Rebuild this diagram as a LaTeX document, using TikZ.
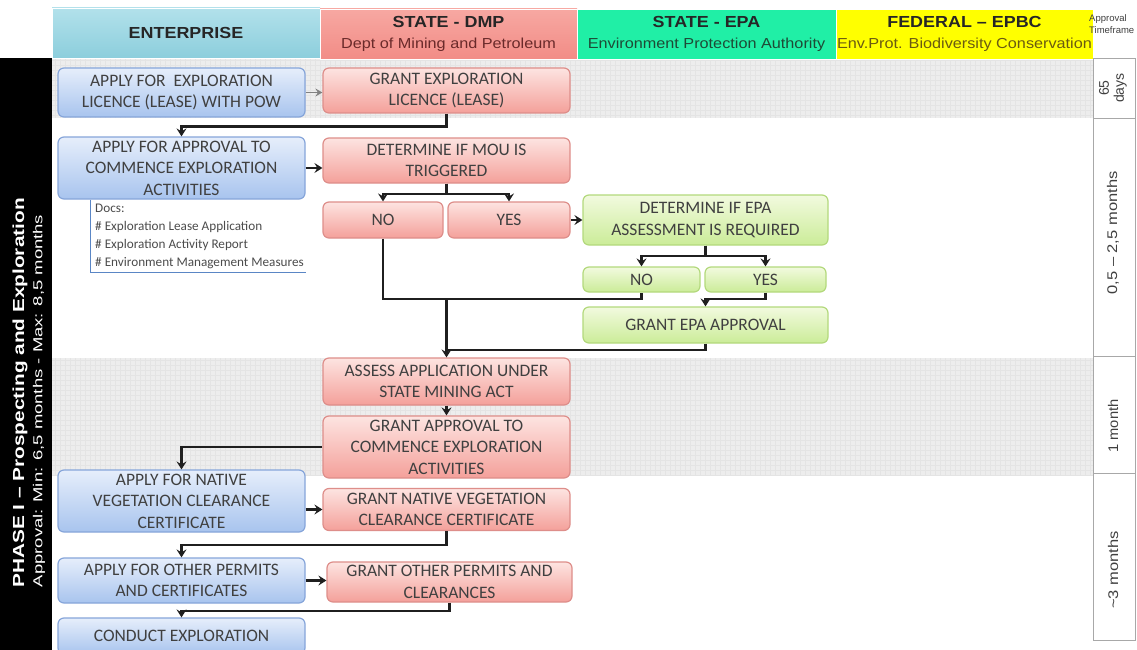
\documentclass[tikz,border=0pt]{standalone}
\usepackage{fontspec}
\setmainfont{Carlito}
\newfontfamily\hdfont{Liberation Sans}[FakeStretch=1.12]
\newfontfamily\barfont{Liberation Sans}
\usetikzlibrary{arrows.meta,calc}

% palette
\definecolor{entTop}{HTML}{B2E1EB}
\definecolor{entBot}{HTML}{8CCEDC}
\definecolor{dmpTop}{HTML}{F7A8A2}
\definecolor{dmpBot}{HTML}{F28C86}
\definecolor{epaHd}{HTML}{20EFA6}
\definecolor{epbcHd}{HTML}{FFFF00}
\definecolor{bandgray}{HTML}{EDEDED}
\definecolor{gridgray}{HTML}{E4E4E4}
\definecolor{boxtext}{HTML}{404040}
\definecolor{bTop}{HTML}{E6EEFB}
\definecolor{bBot}{HTML}{A8C4EE}
\definecolor{bLine}{HTML}{86A5DA}
\definecolor{pTop}{HTML}{FDE4E1}
\definecolor{pBot}{HTML}{F4A09A}
\definecolor{pLine}{HTML}{DE8E8A}
\definecolor{gTop}{HTML}{F2FADF}
\definecolor{gBot}{HTML}{CBEC98}
\definecolor{gLine}{HTML}{B3D97C}
\definecolor{docblue}{HTML}{5A86C5}
\definecolor{tfline}{HTML}{A8A8A8}

\begin{document}
\begin{tikzpicture}[x=1pt,y=-1pt,
  sz/.style 2 args={minimum width=#1pt,minimum height=#2pt},
  box/.style={rounded corners=6pt, line width=1.2pt, align=center,
    inner xsep=3pt, inner ysep=0pt, text=boxtext,
    font=\fontsize{17.5}{21.5}\selectfont},
  bluebox/.style={box, draw=bLine, top color=bTop, bottom color=bBot},
  pinkbox/.style={box, draw=pLine, top color=pTop, bottom color=pBot},
  greenbox/.style={box, draw=gLine, top color=gTop, bottom color=gBot},
  hdcell/.style={draw=white, line width=0.8pt, inner sep=0pt, align=center,
    font=\hdfont\fontsize{16}{21}\selectfont},
  tfbox/.style={draw=tfline, fill=white, line width=0.9pt},
  tftext/.style={rotate=90, text=black!75, align=center, inner sep=0pt,
    font=\barfont\fontsize{14}{15}\selectfont},
  link/.style={line width=2.2pt, draw=black!88},
  arr/.style={link, -{Stealth[length=8pt,width=10pt,inset=3pt]}},
  grayarr/.style={line width=1.3pt, draw=black!50, -{Stealth[length=7pt,width=8pt,inset=2.5pt]}},
  docline/.style={line width=1pt, draw=docblue}
]
\useasboundingbox (0,0) rectangle (1137,650);
\clip (0,0) rectangle (1137,650);
\fill[white] (0,0) rectangle (1137,650);

% shaded time bands
\fill[bandgray] (52,58) rectangle (1093,118);
\draw[gridgray, line width=0.3pt, step=5pt] (52,58) grid (1093,118);
\fill[bandgray] (52,358) rectangle (1093,475);
\draw[gridgray, line width=0.3pt, step=5pt] (52,358) grid (1093,475);

% column headers
\node[hdcell, top color=entTop, bottom color=entBot, sz={268}{50}] (hEnt) at (186,33)
  {\bfseries\color{black!85}ENTERPRISE};
\node[hdcell, top color=dmpTop, bottom color=dmpBot, sz={257}{50}] (hDmp) at (448.5,34)
  {{\bfseries\color{black!85}STATE - DMP}\\
   {\fontsize{14.5}{17}\selectfont\color[HTML]{6A2A2A}Dept of Mining and Petroleum}};
\node[hdcell, fill=epaHd, sz={259}{50}] (hEpa) at (706.5,34)
  {{\bfseries\color{black!85}STATE - EPA}\\
   {\fontsize{14.5}{17}\selectfont\color[HTML]{1E4A36}Environment Protection Authority}};
\node[hdcell, fill=epbcHd, sz={257}{50}] (hEpbc) at (964.5,34)
  {{\bfseries\color{black!85}FEDERAL – EPBC}\\
   {\fontsize{14.5}{17}\selectfont\color[HTML]{6A5A12}Env.Prot. Biodiversity Conservation}};
\node[anchor=north west, inner sep=0pt, align=left, text=black!75,
  font=\barfont\fontsize{9.5}{12.5}\selectfont] (tfhead) at (1089,14) {Approval\\Timeframe};

% phase bar
\fill[black] (0,58) rectangle (52,650);
\node[rotate=90, text=white, inner sep=0pt] (phase) at (20,393)
  {\scalebox{1.3}[1]{\barfont\bfseries\fontsize{16}{18}\selectfont PHASE I – Prospecting and Exploration}};
\node[rotate=90, text=white, inner sep=0pt] (phasetime) at (39,401)
  {\scalebox{1.42}[1]{\barfont\fontsize{13}{15}\selectfont Approval: Min: 6,5 months - Max: 8,5 months}};

% approval timeframe column
\draw[tfbox] (1093,58) rectangle (1135,118);
\draw[tfbox] (1093,118) rectangle (1135,356);
\draw[tfbox] (1093,356) rectangle (1135,473);
\draw[tfbox] (1093,473) rectangle (1135,640);
\node[tftext] (tf1) at (1113,88) {65\\days};
\node[tftext] (tf2) at (1113,233) {\scalebox{1.18}[1]{0,5 – 2,5 months}};
\node[tftext] (tf3) at (1113,426) {\scalebox{1.05}[1]{1 month}};
\node[tftext] (tf4) at (1113,570) {\scalebox{1.18}[1]{\textasciitilde 3 months}};

% enterprise steps
\node[bluebox, sz={247}{49}] (ent1) at (181.5,92.5) {APPLY FOR\ \ EXPLORATION\\LICENCE (LEASE) WITH POW};
\node[bluebox, sz={247}{62}] (ent2) at (181.5,168) {APPLY FOR APPROVAL TO\\COMMENCE EXPLORATION\\ACTIVITIES};
\node[bluebox, sz={247}{62}] (ent3) at (181.5,501) {APPLY FOR NATIVE\\VEGETATION CLEARANCE\\CERTIFICATE};
\node[bluebox, sz={247}{45}] (ent4) at (181.5,580.5) {APPLY FOR OTHER PERMITS\\AND CERTIFICATES};
\node[bluebox, sz={247}{36}] (ent5) at (181.5,636) {CONDUCT EXPLORATION};

% supporting documents
\node[anchor=north west, inner sep=0pt, align=left, text=black!70,
  font=\fontsize{13.2}{18}\selectfont] (docs) at (95,204)
  {Docs:\\\# Exploration Lease Application\\\# Exploration Activity Report\\\# Environment Management Measures};
\draw[docline] ([xshift=-5pt]ent2.south -| docs.west) |- ([yshift=-3pt]docs.south -| ent2.east);

% state DMP steps
\node[pinkbox, sz={247}{45}] (dmp1) at (446.5,90.5) {GRANT EXPLORATION\\LICENCE (LEASE)};
\node[pinkbox, sz={247}{45}] (dmp2) at (446.5,160.5) {DETERMINE IF MOU IS\\TRIGGERED};
\node[pinkbox, sz={120}{36}] (dno) at (383,220) {NO};
\node[pinkbox, sz={122}{36}] (dyes) at (509,220) {YES};
\node[pinkbox, sz={247}{47}] (dmp3) at (446.5,381.5) {ASSESS APPLICATION UNDER\\STATE MINING ACT};
\node[pinkbox, sz={247}{62}] (dmp4) at (446.5,447) {GRANT APPROVAL TO\\COMMENCE EXPLORATION\\ACTIVITIES};
\node[pinkbox, sz={247}{42}] (dmp5) at (446.5,509.5) {GRANT NATIVE VEGETATION\\CLEARANCE CERTIFICATE};
\node[pinkbox, sz={245}{40}] (dmp6) at (449.5,582) {GRANT OTHER PERMITS AND\\CLEARANCES};

% state EPA steps
\node[greenbox, sz={245}{50}] (epa1) at (705.5,220) {DETERMINE IF EPA\\ASSESSMENT IS REQUIRED};
\node[greenbox, sz={117}{25}] (eno) at (641.5,279.5) {NO};
\node[greenbox, sz={121}{25}] (eyes) at (765.5,279.5) {YES};
\node[greenbox, sz={245}{36}] (epa2) at (705.5,325) {GRANT EPA APPROVAL};

% junctions of the decision paths
\coordinate (jn) at (446.5,299);
\coordinate (jm) at (446.5,350);

% flow
\draw[grayarr] (ent1.east) -- (ent1.east -| dmp1.west);
\draw[arr] (dmp1.south) -- ++(0,13) -| (ent2.north);
\draw[arr] (ent2.east) -- (ent2.east -| dmp2.west);
\draw[arr] (dmp2.south) -- ++(0,10) -| (dno.north);
\draw[arr] (dmp2.south) -- ++(0,10) -| (dyes.north);
\draw[arr] (dyes.east) -- (dyes.east -| epa1.west);
\draw[arr] (epa1.south) -- ++(0,10) -| (eno.north);
\draw[arr] (epa1.south) -- ++(0,10) -| (eyes.north);
\draw[arr] (eyes.south) -- ++(0,6) -| (epa2.north);
\draw[link] (dno.south) |- (jn) -| (eno.south);
\draw[link] (epa2.south) |- (jm);
\draw[arr] (jn) -- (dmp3.north);
\draw[arr] (dmp3.south) -- (dmp4.north);
\draw[arr] (dmp4.west) -| (ent3.north);
\draw[arr] (ent3.east |- dmp5.west) -- (dmp5.west);
\draw[arr] (dmp5.south) -- ++(0,14) -| (ent4.north);
\draw[arr] (ent4.east) -- (ent4.east -| dmp6.west);
\draw[arr] (dmp6.south) -- ++(0,8) -| (ent5.north);
\end{tikzpicture}
\end{document}
